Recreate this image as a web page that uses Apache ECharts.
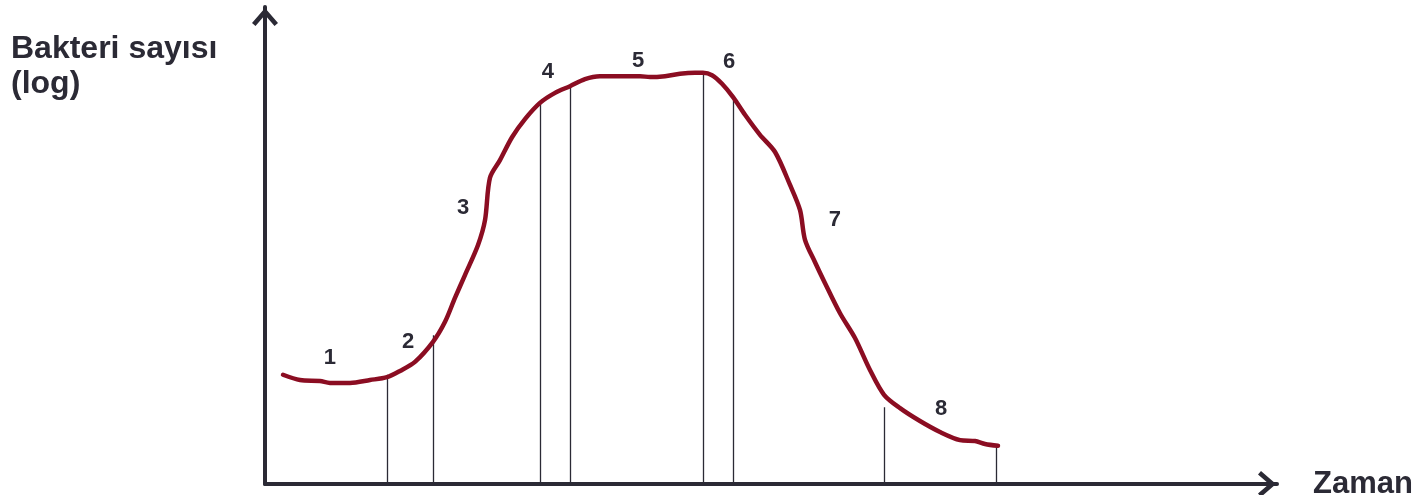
<!DOCTYPE html>
<html>
<head>
<meta charset="utf-8">
<script src="https://cdn.jsdelivr.net/npm/echarts@6/dist/echarts.min.js"></script>
<style>
  html, body { margin: 0; padding: 0; background: #ffffff; }
  #chart { width: 1423px; height: 495px; }
</style>
</head>
<body>
<div id="chart"></div>
<script>
// growth curve (time 0..100, log count 0..10)
var curveX = [1.78, 3.46, 5.43, 6.42, 8.40, 10.38, 12.06, 13.34, 14.82, 16.60, 17.79, 18.77, 19.76, 21.05, 21.74, 22.23, 23.22, 24.41, 25.69, 27.17, 28.66, 30.14, 31.62, 33.10, 35.08, 37.06, 38.04, 39.53, 41.01, 42.49, 43.28, 44.17, 45.16, 46.25, 47.43, 48.91, 50.40, 51.88, 52.87, 53.36, 54.35, 55.34, 56.82, 58.30, 59.78, 61.17, 62.75, 64.72, 66.70, 68.68, 70.16, 71.15, 72.43];
var curveY = [2.29, 2.18, 2.16, 2.12, 2.12, 2.18, 2.24, 2.37, 2.56, 2.98, 3.40, 3.90, 4.38, 5.01, 5.53, 6.42, 6.79, 7.27, 7.65, 7.99, 8.20, 8.34, 8.49, 8.55, 8.55, 8.55, 8.53, 8.55, 8.60, 8.62, 8.62, 8.57, 8.39, 8.11, 7.74, 7.32, 6.96, 6.27, 5.74, 5.12, 4.65, 4.21, 3.58, 3.06, 2.39, 1.87, 1.59, 1.32, 1.09, 0.92, 0.90, 0.84, 0.80];

// phase boundaries
var boundaryX = [12.06, 16.60, 27.17, 30.14, 43.28, 46.25, 61.17, 72.23];
var boundaryTop = [2.29, 3.12, 7.99, 8.34, 8.62, 8.11, 1.61, 0.80];

// phase numbers
var phaseNames = ['1', '2', '3', '4', '5', '6', '7', '8'];
var phaseX = [6.42, 14.13, 19.57, 27.96, 36.86, 45.85, 56.32, 66.80];
var phaseY = [2.64, 2.98, 5.79, 8.64, 8.87, 8.85, 5.54, 1.57];

var inkColor = '#2b2a35';
var curveColor = '#8b0d22';
var chevron = 'path://M13,0 L26,15 L22.5,18 L13,7 L3.5,18 L0,15 Z';

var myChart = echarts.init(document.getElementById('chart'));

var option = {
  animation: false,
  backgroundColor: '#ffffff',
  grid: {
    left: 265,
    right: 146,
    top: 7,
    bottom: 11,
    containLabel: false,
    outerBoundsMode: 'none'
  },
  graphic: [
    {
      type: 'text',
      left: 11,
      top: 32,
      style: {
        text: 'Bakteri sayısı\n(log)',
        font: 'bold 32px "Liberation Sans", Arial, sans-serif',
        lineHeight: 35,
        fill: inkColor
      }
    }
  ],
  xAxis: {
    type: 'value',
    min: 0,
    max: 100,
    name: 'Zaman',
    nameLocation: 'end',
    nameGap: 36,
    nameTextStyle: {
      color: inkColor,
      fontSize: 31,
      fontWeight: 'bold',
      fontFamily: '"Liberation Sans", Arial, sans-serif',
      verticalAlign: 'middle',
      padding: [0, 0, 0, 0]
    },
    splitLine: { show: false },
    axisTick: { show: false },
    axisLabel: { show: false },
    axisLine: {
      show: true,
      symbol: ['none', chevron],
      symbolSize: [26, 20],
      symbolOffset: [0, -10],
      lineStyle: { color: inkColor, width: 4 }
    }
  },
  yAxis: {
    type: 'value',
    min: 0,
    max: 10,
    splitLine: { show: false },
    axisTick: { show: false },
    axisLabel: { show: false },
    axisLine: {
      show: true,
      symbol: ['none', chevron],
      symbolSize: [26, 20],
      symbolOffset: [0, -10],
      lineStyle: { color: inkColor, width: 4 }
    }
  },
  series: [
    {
      name: 'boundaries',
      type: 'lines',
      coordinateSystem: 'cartesian2d',
      z: 1,
      lineStyle: { color: inkColor, width: 1.3, opacity: 1 },
      data: boundaryX.map(function (x, i) {
        return { coords: [[x, 0], [x, boundaryTop[i]]] };
      })
    },
    {
      name: 'curve',
      type: 'line',
      z: 3,
      smooth: 0.3,
      showSymbol: false,
      symbol: 'none',
      lineStyle: { color: curveColor, width: 4.5, cap: 'round', join: 'round' },
      data: curveX.map(function (x, i) { return [x, curveY[i]]; })
    },
    {
      name: 'phases',
      type: 'scatter',
      z: 4,
      symbolSize: 1,
      itemStyle: { color: 'rgba(0,0,0,0)', opacity: 1 },
      label: {
        show: true,
        position: 'inside',
        formatter: '{b}',
        color: inkColor,
        opacity: 1,
        fontSize: 22,
        fontWeight: 'bold',
        fontFamily: '"Liberation Sans", Arial, sans-serif'
      },
      data: phaseX.map(function (x, i) {
        return { name: phaseNames[i], value: [x, phaseY[i]] };
      })
    }
  ]
};

myChart.setOption(option);
</script>
</body>
</html>
